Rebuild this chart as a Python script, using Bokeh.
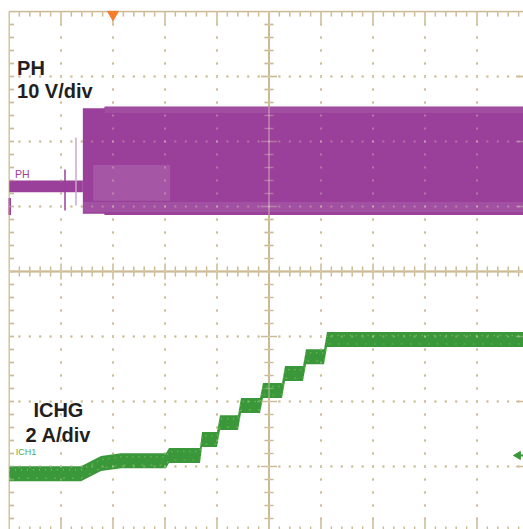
import numpy as np
from bokeh.plotting import figure
from bokeh.models import Range1d, Label
from bokeh.embed import file_html
from bokeh.resources import INLINE

# ---------------- data (read from the scope capture) ----------------
# time axis in screen divisions (10 div across), vertical 8 div (-4..4)
# PH channel: 10 V/div, ground marker at +1 div
ph_scale = 10.0
ph_pos = 1.0
ph_pre_t = [0.0, 1.42]            # before switching starts
ph_pre_hi = [4.0, 4.0]            # V
ph_pre_lo = [2.2, 2.2]            # V
ph_sw_t = [1.42, 1.83, 1.84, 9.91]  # switching envelope
ph_sw_hi = [15.1, 15.1, 15.4, 15.4]
ph_sw_lo = [-1.1, -1.1, -1.3, -1.3]
ph_ring_t = [1.62, 3.10]          # lighter ringing region at start
ph_ring_hi = [6.4, 6.4]
ph_ring_lo = [0.9, 0.9]
ph_fuzz_t = [1.42, 9.91]          # lighter fuzz near 0 V
ph_fuzz_hi = [0.7, 0.7]
ph_fuzz_lo = [-0.9, -0.9]
ph_top_t = [1.84, 9.91]           # lighter fuzz at top edge
ph_top_hi = [15.3, 15.3]
ph_top_lo = [14.4, 14.4]
ph_spike_t = [1.077, 1.288]
ph_spike_hi = [5.7, 10.6]
ph_spike_lo = [-0.6, 0.15]

# ICHG channel: 2 A/div, ground at -4 div
ichg_scale = 2.0
ichg_pos = -4.0
ichg_t = [0.0, 1.385, 1.77, 2.154, 3.019, 3.077, 3.673, 3.712, 4.0, 4.058,
          4.404, 4.462, 4.827, 4.885, 5.25, 5.308, 5.654, 5.712, 6.058, 6.115, 9.91]
ichg_a = [1.78, 1.78, 2.09, 2.18, 2.18, 2.34, 2.34, 2.83, 2.83, 3.35,
          3.35, 3.88, 3.88, 4.34, 4.34, 4.86, 4.86, 5.38, 5.38, 5.91, 5.91]
ichg_noise = 0.23                 # half of peak-to-peak band, A
ichg_trig_level = 2.34            # A, right-hand marker

trig_time = 2.0                   # div, orange trigger marker

# ---------------- figure ----------------
PX_X = 52.0   # px per horizontal division
PX_Y = 65.0   # px per vertical division
W, H = 523, 529
ML, MT = 8, 10
x0 = -0.5 / PX_X
x1 = x0 + (W - ML) / PX_X
ytop = 4.0 + 1.0 / PX_Y
ybot = ytop - (H - MT) / PX_Y

p = figure(width=W, height=H, output_backend="svg", toolbar_location=None,
           x_range=Range1d(x0, x1), y_range=Range1d(ybot, ytop),
           x_axis_location=None, y_axis_location=None,
           min_border_left=ML, min_border_right=0, min_border_top=MT, min_border_bottom=0)
p.outline_line_color = None
p.background_fill_color = "white"
p.border_fill_color = "white"
p.grid.grid_line_color = None


def graticule(color, alpha, width_scale=1.0):
    xs0, ys0, xs1, ys1 = [], [], [], []
    # top / bottom edge ticks
    for k in range(1, 50):
        x = 0.2 * k
        L = (13 if k % 5 == 0 else 5) / PX_Y
        xs0 += [x, x]; xs1 += [x, x]
        ys0 += [4.0, -4.0]; ys1 += [4.0 - L, -4.0 + L]
    # left (short) / right edge ticks
    for k in range(-19, 20):
        y = 0.2 * k
        Lr = (13 if k % 5 == 0 else 5) / PX_X
        Ll = 5 / PX_X
        xs0 += [0.0, 10.0]; xs1 += [Ll, 10.0 - Lr]
        ys0 += [y, y]; ys1 += [y, y]
    # ticks on the centre vertical line
    for k in range(-19, 20):
        if k == 0:
            continue
        y = 0.2 * k
        h = (8 if k % 5 == 0 else 4.5) / PX_X
        xs0.append(5.0 - h); xs1.append(5.0 + h); ys0.append(y); ys1.append(y)
    # ticks on the centre horizontal line
    for k in range(1, 50):
        if k == 25:
            continue
        x = 0.2 * k
        h = (8 if k % 5 == 0 else 5) / PX_Y
        xs0.append(x); xs1.append(x); ys0.append(-h); ys1.append(h)
    p.segment(xs0, ys0, xs1, ys1, line_color=color, line_alpha=alpha, line_width=1.3 * width_scale)
    # borders and centre cross
    p.segment([0.0, 0.0, 5.0, 0.0], [4.0, -4.0, -4.0, 0.0], [10.0, 0.0, 5.0, 10.0], [4.0, 4.0, 4.0, 0.0],
              line_color=color, line_alpha=alpha, line_width=[1.5, 1.5, 2.0, 2.0])
    # dotted grid
    dx, dy = [], []
    for gx in [1, 2, 3, 4, 6, 7, 8, 9]:
        for k in range(-19, 20):
            dx.append(gx); dy.append(0.2 * k)
    for gy in [-3, -2, -1, 1, 2, 3]:
        for k in range(1, 50):
            dx.append(0.2 * k); dy.append(gy)
    p.scatter(dx, dy, marker="square", size=2 * width_scale, fill_color=color,
              fill_alpha=alpha, line_color=None)


graticule("#BDA97A", 1.0)

# ---------------- PH trace ----------------
purple = "#9A3F9A"
light_purple = "#B67CB6"


def ph(v):
    return ph_pos + np.asarray(v, dtype=float) / ph_scale


p.varea(x=ph_pre_t, y1=ph(ph_pre_lo), y2=ph(ph_pre_hi), fill_color=purple)
p.varea(x=ph_sw_t, y1=ph(ph_sw_lo), y2=ph(ph_sw_hi), fill_color=purple)
p.varea(x=ph_ring_t, y1=ph(ph_ring_lo), y2=ph(ph_ring_hi), fill_color=light_purple, fill_alpha=0.4)
p.varea(x=ph_fuzz_t, y1=ph(ph_fuzz_lo), y2=ph(ph_fuzz_hi), fill_color=light_purple, fill_alpha=0.3)
p.varea(x=ph_top_t, y1=ph(ph_top_lo), y2=ph(ph_top_hi), fill_color=light_purple, fill_alpha=0.25)
p.segment(x0=ph_spike_t, y0=ph(ph_spike_lo), x1=ph_spike_t, y1=ph(ph_spike_hi),
          line_color=[purple, "#C9A8C9"], line_width=1.5)
# PH ground marker on the left edge
p.segment(x0=[0.0], y0=[ph_pos - 0.13], x1=[0.0], y1=[ph_pos + 0.13], line_color=purple, line_width=4)

# ---------------- ICHG trace ----------------
green = "#3A973A"
light_green = "#86C95C"
ia = np.asarray(ichg_a)
ichg_c = ichg_pos + ia / ichg_scale
p.varea(x=ichg_t, y1=ichg_c - ichg_noise / ichg_scale, y2=ichg_c + ichg_noise / ichg_scale,
        fill_color=green)
p.line(x=ichg_t, y=ichg_c + 0.06, line_color=light_green, line_width=1.5, line_dash="1 5", line_alpha=0.8)
p.line(x=ichg_t, y=ichg_c - 0.07, line_color=light_green, line_width=1.2, line_dash="2 7", line_alpha=0.6)

# right-hand ICHG level marker
ty = ichg_pos + ichg_trig_level / ichg_scale
p.segment(x0=[9.80], y0=[ty], x1=[9.91], y1=[ty], line_color=green, line_width=2)
p.scatter(x=[9.79], y=[ty], marker="triangle", angle=np.pi / 2, size=8,
          fill_color=green, line_color=green)

# graticule overlay (visible through the traces)
graticule("#E6DCC6", 0.35)

# trigger position marker
p.scatter(x=[trig_time], y=[4.0 - 0.045], marker="inverted_triangle", size=11,
          fill_color="#F47C2C", line_color="#F47C2C")

# ---------------- labels ----------------
font = "Liberation Sans"
ink = "#231F20"
dy_fix = 0.13
p.add_layout(Label(x=0.155, y=3.0 + dy_fix, text="PH", text_font=font, text_font_size="20px",
                   text_font_style="bold", text_color=ink, text_baseline="alphabetic"))
p.add_layout(Label(x=0.155, y=2.64 + dy_fix, text="10 V/div", text_font=font, text_font_size="20px",
                   text_font_style="bold", text_color=ink, text_baseline="alphabetic"))
p.add_layout(Label(x=0.115, y=1.43 + dy_fix * 0.5, text="PH", text_font=font, text_font_size="10.5px",
                   text_color=purple, text_baseline="alphabetic"))
p.add_layout(Label(x=0.13, y=-2.84 + dy_fix * 0.5, text="ICH1", text_font=font, text_font_size="9px",
                   text_color="#4FAF4F", text_baseline="alphabetic"))
p.add_layout(Label(x=0.95, y=-2.262 + dy_fix, text="ICHG", text_font=font, text_font_size="20px",
                   text_font_style="bold", text_color=ink, text_baseline="alphabetic", text_align="center"))
p.add_layout(Label(x=0.95, y=-2.646 + dy_fix, text="2 A/div", text_font=font, text_font_size="20px",
                   text_font_style="bold", text_color=ink, text_baseline="alphabetic", text_align="center"))

open("out.html", "w").write(file_html(p, INLINE))
